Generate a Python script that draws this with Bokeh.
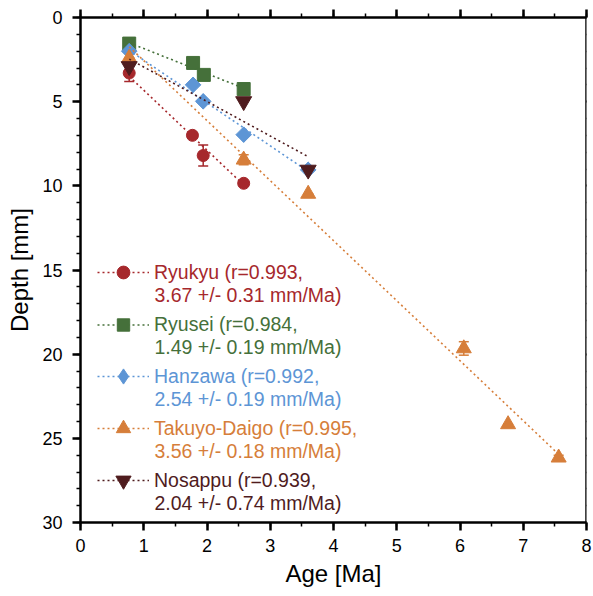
import math
from bokeh.plotting import figure
from bokeh.models import (Range1d, LinearAxis, SingleIntervalTicker, Legend, LegendItem,
                          Whisker, TeeHead, ColumnDataSource, Label, CustomJSTickFormatter)
from bokeh.embed import file_html
from bokeh.resources import INLINE

FONT = "Liberation Sans"

# ---- data ----
ryukyu_age = [0.77, 1.77, 1.94, 2.58]
ryukyu_depth = [3.3, 7.0, 8.2, 9.85]
ryukyu_err = [0.5, 0.0, 0.62, 0.0]
ryukyu_fit_age = [0.77, 2.58]
ryukyu_fit_depth = [3.5, 9.95]

ryusei_age = [0.77, 1.78, 1.95, 2.58]
ryusei_depth = [1.55, 2.7, 3.41, 4.25]
ryusei_err = [0.0, 0.0, 0.0, 0.0]
ryusei_fit_age = [0.77, 2.58]
ryusei_fit_depth = [1.5, 4.2]

hanzawa_age = [0.77, 1.78, 1.94, 2.58, 3.6]
hanzawa_depth = [2.0, 4.0, 4.98, 6.96, 9.05]
hanzawa_err = [0.0, 0.0, 0.0, 0.0, 0.0]
hanzawa_fit_age = [0.77, 3.6]
hanzawa_fit_depth = [1.95, 9.15]

takuyo_age = [0.77, 2.58, 3.6, 6.06, 6.76, 7.56]
takuyo_depth = [2.4, 8.45, 10.48, 19.66, 24.17, 26.15]
takuyo_err = [0.0, 0.3, 0.0, 0.4, 0.0, 0.15]
takuyo_fit_age = [0.77, 7.56]
takuyo_fit_depth = [1.74, 25.95]

nosappu_age = [0.77, 2.58, 3.6]
nosappu_depth = [2.9, 4.98, 9.05]
nosappu_err = [0.0, 0.0, 0.0]
nosappu_fit_age = [0.77, 3.6]
nosappu_fit_depth = [2.47, 8.27]

label_line1 = ["Ryukyu (r=0.993,", "Ryusei (r=0.984,", "Hanzawa (r=0.992,",
               "Takuyo-Daigo (r=0.995,", "Nosappu (r=0.939,"]
label_line2 = ["3.67 +/- 0.31 mm/Ma)", "1.49 +/- 0.19 mm/Ma)", "2.54 +/- 0.19 mm/Ma)",
               "3.56 +/- 0.18 mm/Ma)", "2.04 +/- 0.74 mm/Ma)"]

X_MIN, X_MAX = 0, 8
Y_MIN, Y_MAX = 0, 30

colors = ["#a6282c", "#45703a", "#5d95d5", "#d67e3a", "#4f1c1e"]
markers = ["circle", "square", "square", "triangle", "inverted_triangle"]
mangles = [0, 0, math.pi / 4, 0, 0]
msizes = [12, 13, 11, 15, 16]
legend_glyph_h = [32, 31, 38, 36, 38]

series = [
    (ryukyu_age, ryukyu_depth, ryukyu_err, ryukyu_fit_age, ryukyu_fit_depth),
    (ryusei_age, ryusei_depth, ryusei_err, ryusei_fit_age, ryusei_fit_depth),
    (hanzawa_age, hanzawa_depth, hanzawa_err, hanzawa_fit_age, hanzawa_fit_depth),
    (takuyo_age, takuyo_depth, takuyo_err, takuyo_fit_age, takuyo_fit_depth),
    (nosappu_age, nosappu_depth, nosappu_err, nosappu_fit_age, nosappu_fit_depth),
]

FRAME_BOTTOM = 522  # canvas pixel row of the x axis

p = figure(width=593, height=596, output_backend="svg", toolbar_location=None,
           x_range=Range1d(X_MIN, X_MAX), y_range=Range1d(Y_MAX, Y_MIN),
           min_border_left=80, min_border_right=7, min_border_top=17, min_border_bottom=74,
           x_axis_label="Age [Ma]", y_axis_label="Depth [mm]")
p.grid.visible = False
p.outline_line_color = None
p.background_fill_color = "white"
p.border_fill_color = "white"


def style_axis(ax, show_labels=True):
    ax.axis_line_width = 2.5
    ax.axis_line_color = "black"
    ax.major_tick_line_width = 2.5
    ax.minor_tick_line_width = 1.5
    ax.major_tick_out = 8
    ax.major_tick_in = 0
    ax.minor_tick_out = 4
    ax.minor_tick_in = 0
    ax.major_label_text_font = FONT
    ax.major_label_text_color = "black"
    ax.axis_label_text_font = FONT
    ax.axis_label_text_font_size = "24px"
    ax.axis_label_text_font_style = "normal"
    ax.axis_label_text_color = "black"
    if show_labels:
        ax.major_label_text_font_size = "18px"
    else:
        ax.formatter = CustomJSTickFormatter(code="return '';")
        ax.major_label_text_font_size = "1px"
        ax.major_label_standoff = 0
        ax.axis_label_standoff = 0


xb = p.xaxis[0]
xb.ticker = SingleIntervalTicker(interval=1, num_minor_ticks=2)
style_axis(xb)
xb.major_label_standoff = 8
xb.axis_label_standoff = 5

yl = p.yaxis[0]
yl.ticker = SingleIntervalTicker(interval=5, num_minor_ticks=5)
style_axis(yl)
yl.major_label_standoff = 10
yl.axis_label_standoff = 6

top = LinearAxis(ticker=SingleIntervalTicker(interval=1, num_minor_ticks=2))
style_axis(top, False)
p.add_layout(top, "above")
right = LinearAxis(ticker=SingleIntervalTicker(interval=5, num_minor_ticks=5),
                   fixed_location=X_MAX)
style_axis(right, False)
right.major_tick_out = 7
p.add_layout(right, "right")

# canvas rows of first legend text lines
legend_rows = [272, 324, 376, 428, 480]
LINE_GAP = 22

for i, (ages, depths, errs, fa, fd) in enumerate(series):
    c = colors[i]
    ln = p.line(fa, fd, line_color=c, line_width=1.6, line_dash="2 3")
    lo = [d - e for d, e in zip(depths, errs)]
    hi = [d + e for d, e in zip(depths, errs)]
    src = ColumnDataSource(dict(x=ages, y=depths, lo=lo, hi=hi))
    if any(e > 0 for e in errs):
        w = Whisker(source=src, base="x", lower="lo", upper="hi", dimension="height",
                    line_color=c, line_width=1.5,
                    upper_head=TeeHead(size=10, line_color=c, line_width=1.5),
                    lower_head=TeeHead(size=10, line_color=c, line_width=1.5))
        p.add_layout(w)
    leg_marker = None
    if markers[i] == "square" and mangles[i] != 0:
        # narrow diamond hidden beneath the rotated squares, used for the legend glyph
        leg_marker = p.scatter("x", "y", source=src, marker="diamond", size=msizes[i] * 1.35,
                               fill_color=c, line_color=c, line_width=1)
    sc = p.scatter("x", "y", source=src, marker=markers[i], size=msizes[i], angle=mangles[i],
                   fill_color=c, line_color=c, line_width=1)
    if leg_marker is None:
        leg_marker = sc
    gh = legend_glyph_h[i]
    row = legend_rows[i]
    leg = Legend(items=[LegendItem(label=label_line1[i], renderers=[ln, leg_marker])],
                 location=(17, FRAME_BOTTOM - (row + gh / 2)),
                 label_text_color=c, label_text_font=FONT, label_text_font_size="19.5px",
                 glyph_width=52, glyph_height=gh, label_standoff=5, label_height=gh,
                 padding=0, margin=0, spacing=0,
                 border_line_color=None, background_fill_alpha=0)
    p.add_layout(leg)
    p.add_layout(Label(x=74, y=FRAME_BOTTOM - (row + LINE_GAP), x_units="screen", y_units="screen",
                       text=label_line2[i], text_color=c, text_font=FONT,
                       text_font_size="19.5px", text_baseline="middle"))

open("out.html", "w").write(file_html(p, INLINE))
